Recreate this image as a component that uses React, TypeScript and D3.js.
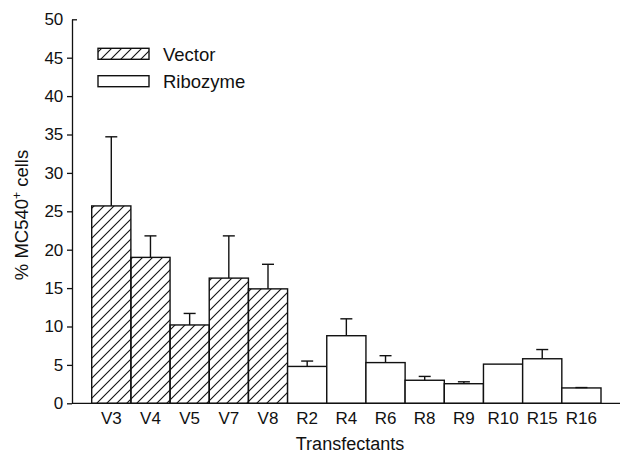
import React, { useEffect, useRef } from "react";
import * as d3 from "d3";

const labels = ["V3", "V4", "V5", "V7", "V8", "R2", "R4", "R6", "R8", "R9", "R10", "R15", "R16"];
const means = [25.7, 19.0, 10.2, 16.3, 14.9, 4.8, 8.8, 5.3, 3.0, 2.55, 5.1, 5.8, 2.0];
const errTops = [34.7, 21.8, 11.7, 21.8, 18.1, 5.5, 11.0, 6.2, 3.5, 2.8, 5.1, 7.0, 2.05];
const groups = ["Vector", "Vector", "Vector", "Vector", "Vector", "Ribozyme", "Ribozyme", "Ribozyme", "Ribozyme", "Ribozyme", "Ribozyme", "Ribozyme", "Ribozyme"];
const legendItems = ["Vector", "Ribozyme"];
const yTicks = [0, 5, 10, 15, 20, 25, 30, 35, 40, 45, 50];

const FONT = "'Liberation Sans', Arial, Helvetica, sans-serif";

export default function App() {
  const svgRef = useRef<SVGSVGElement>(null);

  useEffect(() => {
    const width = 621;
    const height = 454;
    const svg = d3.select(svgRef.current);
    svg.selectAll("*").remove();
    svg.attr("width", width).attr("height", height);

    svg.append("rect").attr("width", width).attr("height", height).attr("fill", "#fff");

    const defs = svg.append("defs");
    defs.append("pattern")
      .attr("id", "hatch")
      .attr("patternUnits", "userSpaceOnUse")
      .attr("width", 10)
      .attr("height", 10)
      .append("path")
      .attr("d", "M-1,1 l2,-2 M0,10 l10,-10 M9,11 l2,-2")
      .attr("stroke", "#111")
      .attr("stroke-width", 1.1);

    const axisX = 72;
    const x = d3.scaleBand<string>().domain(labels).range([91.7, 601]).padding(0);
    const y = d3.scaleLinear().domain([0, 50]).range([403.3, 19.3]);

    const fillFor = (g: string) => (g === "Vector" ? "url(#hatch)" : "#fff");

    // bars
    svg.append("g")
      .selectAll("rect")
      .data(labels)
      .enter()
      .append("rect")
      .attr("x", d => x(d)!)
      .attr("y", (d, i) => y(means[i]))
      .attr("width", x.bandwidth())
      .attr("height", (d, i) => y(0) - y(means[i]))
      .attr("fill", (d, i) => fillFor(groups[i]))
      .attr("stroke", "#111")
      .attr("stroke-width", 1.4);

    // error bars
    const eb = svg.append("g").attr("stroke", "#111").attr("stroke-width", 1.4);
    labels.forEach((d, i) => {
      const cx = x(d)! + x.bandwidth() / 2;
      if (errTops[i] <= means[i]) return;
      eb.append("line").attr("x1", cx).attr("x2", cx).attr("y1", y(means[i])).attr("y2", y(errTops[i]));
      eb.append("line").attr("x1", cx - 6).attr("x2", cx + 6).attr("y1", y(errTops[i])).attr("y2", y(errTops[i]));
    });

    // y axis
    const yAxis = d3.axisLeft(y).tickValues(yTicks).tickSize(5).tickSizeOuter(0).tickPadding(3.7);
    const gy = svg.append("g").attr("transform", `translate(${axisX},0)`).call(yAxis);
    gy.select(".domain").attr("stroke", "#111").attr("stroke-width", 1.3);
    gy.selectAll(".tick line").attr("stroke", "#111").attr("stroke-width", 1.3);
    gy.selectAll<SVGLineElement, number>(".tick line").filter(d => d === 50).attr("x2", 5);
    gy.selectAll(".tick text").attr("font-size", 17).attr("font-family", FONT).attr("fill", "#111");

    // x axis
    const xAxis = d3.axisBottom(x).tickSize(0).tickPadding(8.3);
    const gx = svg.append("g").attr("transform", `translate(0,${y(0)})`).call(xAxis);
    gx.select(".domain").remove();
    gx.selectAll(".tick text").attr("font-size", 17).attr("font-family", FONT).attr("fill", "#111");
    svg.append("line")
      .attr("x1", axisX).attr("x2", 620)
      .attr("y1", y(0)).attr("y2", y(0))
      .attr("stroke", "#111").attr("stroke-width", 1.3);

    // axis titles
    svg.append("text")
      .attr("x", 350)
      .attr("y", 450)
      .attr("text-anchor", "middle")
      .attr("font-size", 18)
      .attr("font-family", FONT)
      .attr("fill", "#111")
      .text("Transfectants");

    const yt = svg.append("text")
      .attr("transform", "rotate(-90)")
      .attr("x", -215)
      .attr("y", 28)
      .attr("text-anchor", "middle")
      .attr("font-size", 18.5)
      .attr("font-family", FONT)
      .attr("fill", "#111");
    yt.append("tspan").text("% MC540");
    yt.append("tspan").attr("font-size", 12).attr("dy", -7).text("+");
    yt.append("tspan").attr("dy", 7).text(" cells");

    // legend
    const lg = svg.append("g");
    legendItems.forEach((name, i) => {
      const top = 48.3 + i * 27.4;
      lg.append("rect")
        .attr("x", 98).attr("y", top)
        .attr("width", 51).attr("height", 11)
        .attr("fill", fillFor(name))
        .attr("stroke", "#111").attr("stroke-width", 1.4);
      lg.append("text")
        .attr("x", 163).attr("y", top + 12.4)
        .attr("font-size", 18.5)
        .attr("font-family", FONT)
        .attr("fill", "#111")
        .text(name);
    });
  }, []);

  return <svg ref={svgRef} style={{ position: "absolute", left: 0, top: 0, display: "block" }}></svg>;
}
